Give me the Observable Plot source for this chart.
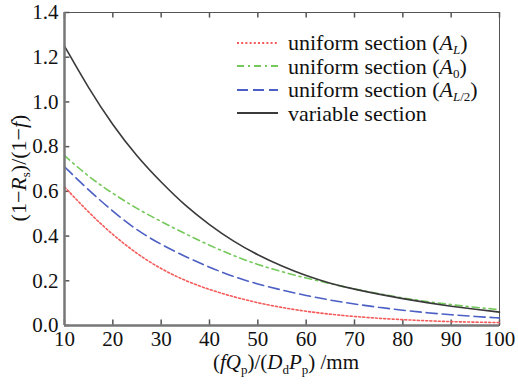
<!DOCTYPE html>
<html><head><meta charset="utf-8">
<script src="https://cdn.jsdelivr.net/npm/d3@7"></script>
<script src="https://cdn.jsdelivr.net/npm/@observablehq/plot@0.6"></script>
<style>
body{margin:0;background:#fff;font-family:"Liberation Serif",serif;}
#wrap{position:relative;width:518px;height:384px;}
#legend{position:absolute;left:237px;top:31px;font-size:22px;color:#111;line-height:23.5px;}
#legend .row{display:flex;align-items:center;height:23.5px;white-space:nowrap;}
#legend svg{margin-right:10px;}
#legend sub{font-size:13px;vertical-align:-4px;line-height:0;}
</style></head>
<body><div id="wrap"><div id="legend"></div></div>
<script>
const xs = [10,15,20,25,30,35,40,45,50,55,60,65,70,75,80,85,90,95,100];
const variableSection = [1.25,1.06,0.895,0.755,0.64,0.535,0.45,0.375,0.315,0.265,0.222,0.188,0.162,0.14,0.12,0.102,0.086,0.072,0.06];
const uniformA0 = [0.76,0.665,0.59,0.522,0.465,0.41,0.358,0.312,0.272,0.24,0.212,0.187,0.163,0.142,0.123,0.107,0.093,0.081,0.071];
const uniformAL2 = [0.71,0.605,0.51,0.425,0.362,0.308,0.26,0.218,0.185,0.158,0.134,0.113,0.096,0.081,0.068,0.057,0.048,0.04,0.034];
const uniformAL = [0.62,0.505,0.405,0.32,0.252,0.2,0.16,0.128,0.101,0.08,0.063,0.05,0.04,0.032,0.026,0.021,0.017,0.015,0.013];
const xTicks = [10,20,30,40,50,60,70,80,90,100];
const yTicks = [0,0.2,0.4,0.6,0.8,1.0,1.2,1.4];

const series = [
  {key:"AL", values:uniformAL, color:"#f45a5a", dash:"2,2.2", html:'uniform section (<i>A</i><sub><i>L</i></sub>)'},
  {key:"A0", values:uniformA0, color:"#74c95a", dash:"7,4,2,4", html:'uniform section (<i>A</i><sub>0</sub>)'},
  {key:"AL2", values:uniformAL2, color:"#4c5fc4", dash:"11,5", html:'uniform section (<i>A</i><sub><i>L</i>/2</sub>)'},
  {key:"var", values:variableSection, color:"#3a3a3a", dash:null, html:'variable section'}
];

const FONT = "Liberation Serif";

const lineMarks = series.map(s => Plot.line(xs.map((x,i)=>({x, y:s.values[i]})), {
  x:"x", y:"y", stroke:s.color, strokeWidth:1.6, strokeDasharray:s.dash, curve:"basis"
}));

const chart = Plot.plot({
  width:518, height:384,
  marginLeft:64, marginRight:19, marginTop:12, marginBottom:59,
  style:{background:"#fff", color:"#111"},
  x:{domain:[10,100], ticks:xTicks, tickFormat:d=>String(d), label:null},
  y:{domain:[0,1.4], ticks:yTicks, tickFormat:d=>d===0?"0":d.toFixed(1), label:null},
  marks:[
    Plot.frame({stroke:"#555", strokeWidth:1}),
    Plot.axisX(xTicks, {tickSize:0, tickPadding:6, fontSize:21}),
    Plot.axisY(yTicks, {tickSize:0, tickPadding:6, fontSize:21}),
    Plot.ruleX(xTicks, {y1:0, y2:0.025, stroke:"#555", strokeWidth:1.5}),
    Plot.ruleX(xTicks, {y1:1.4, y2:1.375, stroke:"#555", strokeWidth:1.5}),
    Plot.ruleY(yTicks, {x1:10, x2:11.1, stroke:"#555", strokeWidth:1.5}),
    ...lineMarks,
    Plot.ruleX([10], {stroke:"#777", strokeWidth:2.5}),
    Plot.ruleY([0], {stroke:"#777", strokeWidth:2.5})
  ]
});
document.getElementById("wrap").insertBefore(chart, document.getElementById("legend"));

const svg = d3.select(chart);
svg.style("font-family", FONT);
svg.selectAll("text").style("font-family", FONT);
svg.selectAll("g").style("font-family", FONT);

const ylab = svg.append("text")
  .attr("transform","translate(26,168) rotate(-90)")
  .attr("text-anchor","middle")
  .style("font-family",FONT).attr("font-size",22).attr("fill","#111");
ylab.append("tspan").text("(1\u2212");
ylab.append("tspan").attr("font-style","italic").text("R");
ylab.append("tspan").attr("font-size",13).attr("dy",4).text("s");
ylab.append("tspan").attr("dy",-4).text(")/(1\u2212");
ylab.append("tspan").attr("font-style","italic").text("f");
ylab.append("tspan").text(")");

const xlab = svg.append("text")
  .attr("x",286).attr("y",369)
  .attr("text-anchor","middle")
  .style("font-family",FONT).attr("font-size",21).attr("fill","#111");
xlab.append("tspan").text("(");
xlab.append("tspan").attr("font-style","italic").text("fQ");
xlab.append("tspan").attr("font-size",13).attr("dy",5).text("p");
xlab.append("tspan").attr("dy",-5).text(")/(");
xlab.append("tspan").attr("font-style","italic").text("D");
xlab.append("tspan").attr("font-size",13).attr("dy",5).text("d");
xlab.append("tspan").attr("dy",-5).attr("font-style","italic").text("P");
xlab.append("tspan").attr("font-size",13).attr("dy",5).text("p");
xlab.append("tspan").attr("dy",-5).text(") /mm");

const leg = d3.select("#legend").style("font-family", FONT);
series.forEach(s => {
  const row = leg.append("div").attr("class","row");
  const sw = row.append("svg").attr("width",41).attr("height",10);
  sw.append("line").attr("x1",0).attr("x2",41).attr("y1",5).attr("y2",5)
    .attr("stroke",s.color).attr("stroke-width",1.8)
    .attr("stroke-dasharray",s.dash);
  row.append("span").style("font-family", FONT).html(s.html);
});
</script></body></html>
